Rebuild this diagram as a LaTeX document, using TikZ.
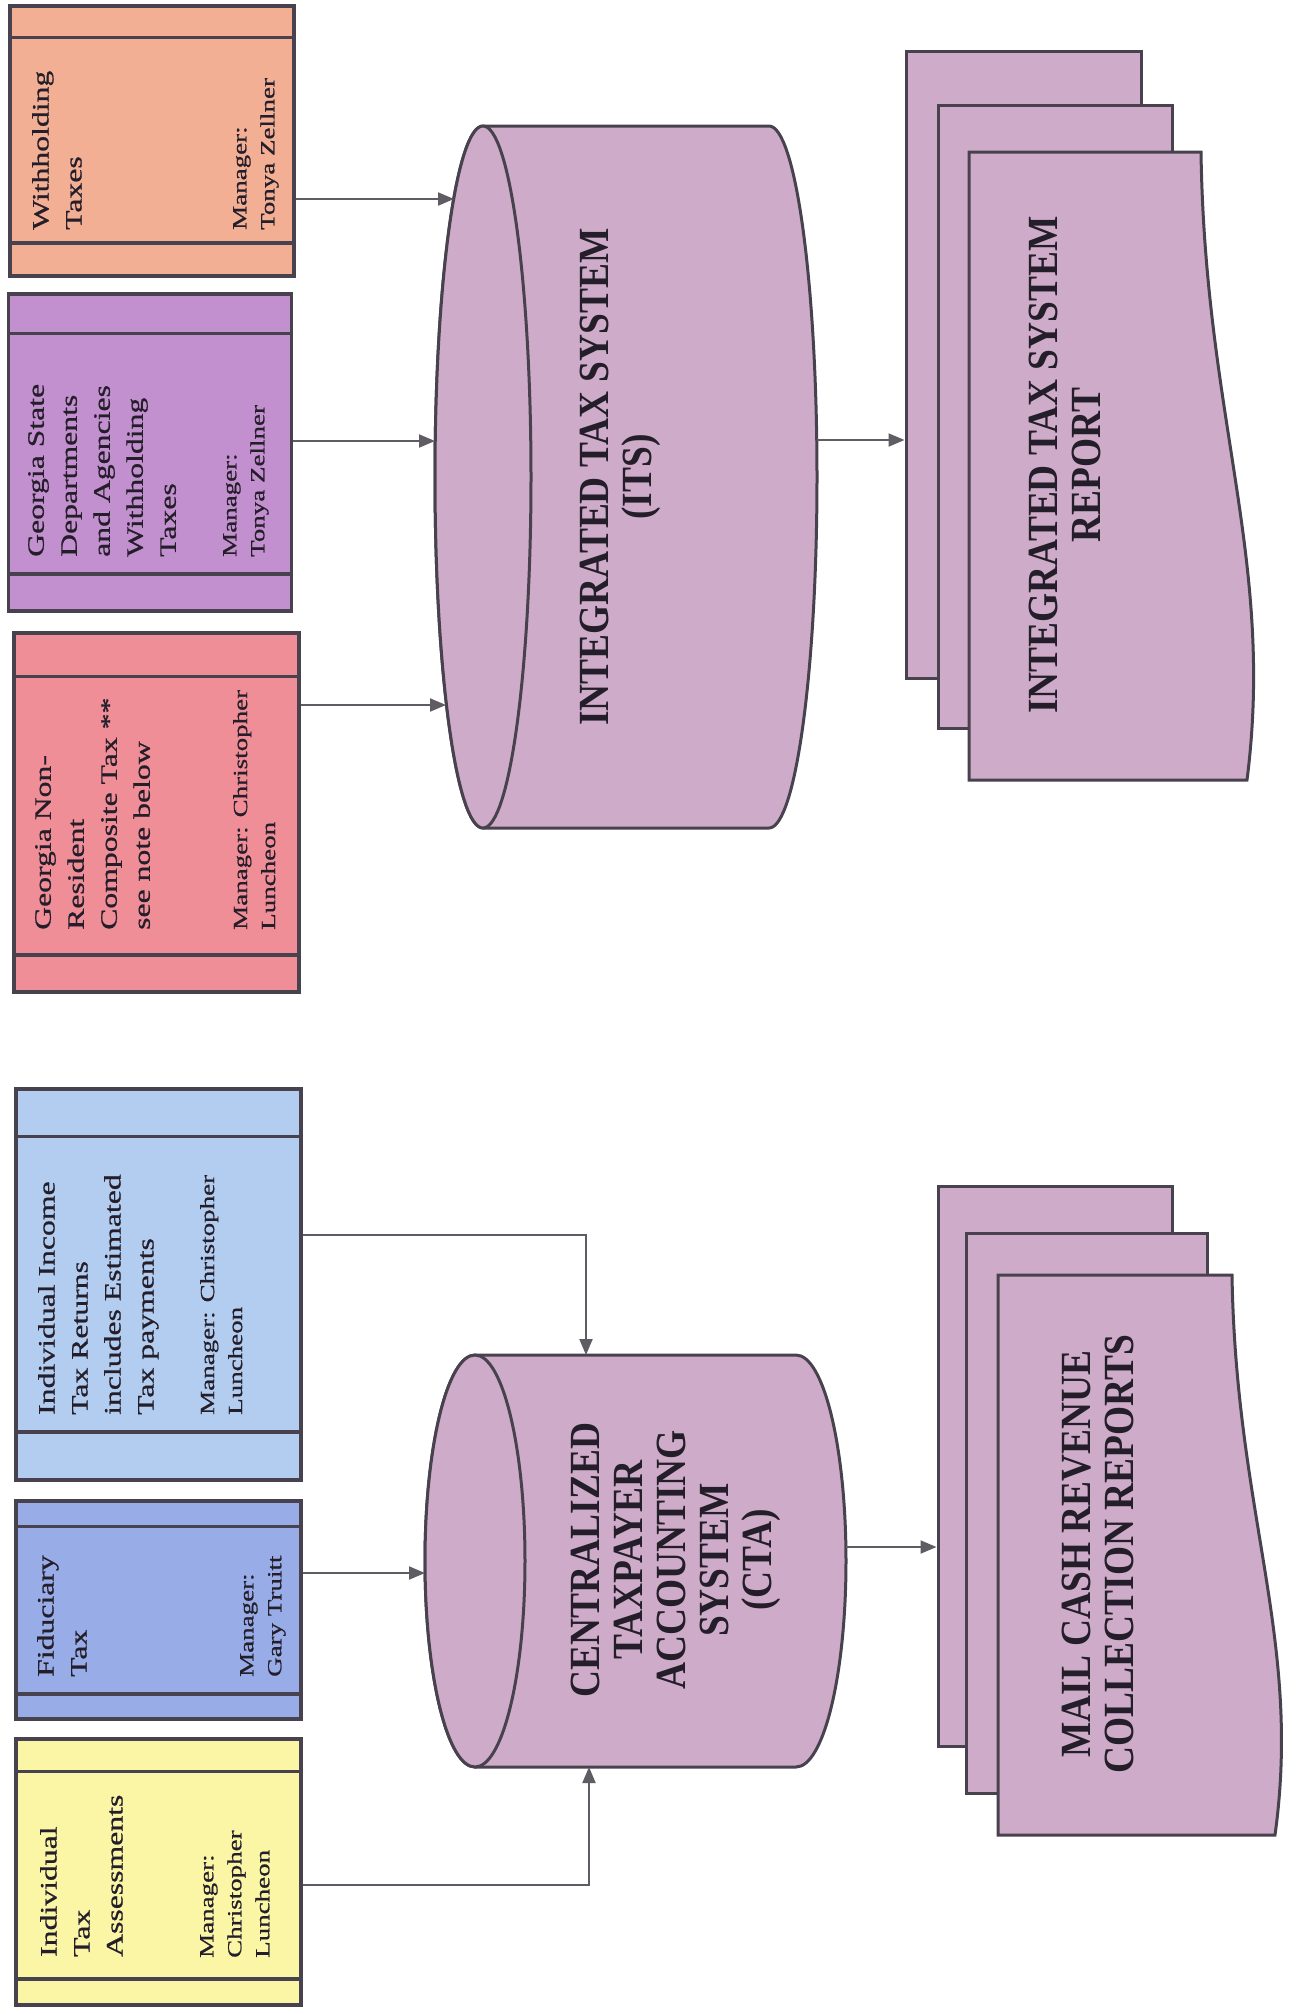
\documentclass[tikz,border=0pt]{standalone}
\usepackage{fontspec}
\setmainfont{Liberation Serif}
\newfontfamily\boxfont[FakeStretch=1.35,FakeBold=0.8]{Liberation Serif}
\newfontfamily\labelfont[FakeStretch=0.87]{Liberation Serif}
\usetikzlibrary{arrows.meta}
\definecolor{edge}{RGB}{72,66,78}
\definecolor{wire}{RGB}{95,92,100}
\definecolor{ink}{RGB}{36,30,42}
\definecolor{whcol}{RGB}{243,175,148}
\definecolor{gsdcol}{RGB}{194,144,206}
\definecolor{nrccol}{RGB}{240,142,152}
\definecolor{iitcol}{RGB}{178,205,240}
\definecolor{fidcol}{RGB}{152,173,232}
\definecolor{itacol}{RGB}{250,246,166}
\definecolor{dbcol}{RGB}{206,172,201}

\begin{document}
\begin{tikzpicture}[x=1pt,y=-1pt,
    procbox/.style={draw=edge, line width=3.5pt, rectangle, inner sep=0pt},
    stripline/.style={draw=edge, line width=3.5pt},
    maintext/.style={rotate=90, anchor=north west, inner sep=0pt, align=left, text=ink,
      font=\boxfont\fontsize{23.5}{33}\selectfont},
    mgrtext/.style={maintext, font=\boxfont\fontsize{20}{28}\selectfont},
    dbshape/.style={draw=edge, line width=3pt, fill=dbcol},
    docedge/.style={draw=edge, line width=3pt, fill=dbcol},
    docpage/.style={docedge, rectangle, inner sep=0pt},
    biglabel/.style={rotate=90, inner sep=0pt, align=center, text=ink,
      font=\labelfont\bfseries\fontsize{43}{43}\selectfont},
    arr/.style={draw=wire, line width=2pt, -{Triangle[length=16pt,width=13pt]}}]
  \useasboundingbox (0,0) rectangle (1297,2014);
  \fill[white] (0,0) rectangle (1297,2014);

  % source boxes, top row
  \node[procbox, fill=whcol, minimum width=284pt, minimum height=270pt] (wh) at (152,141) {};
  \node[procbox, fill=gsdcol, minimum width=283pt, minimum height=317pt] (gsd) at (150,452.5) {};
  \node[procbox, fill=nrccol, minimum width=285pt, minimum height=359pt] (nrc) at (156.5,812.5) {};
  % source boxes, bottom row
  \node[procbox, fill=iitcol, minimum width=285pt, minimum height=391pt] (iit) at (158.5,1284.5) {};
  \node[procbox, fill=fidcol, minimum width=285pt, minimum height=218pt] (fid) at (158.5,1610) {};
  \node[procbox, fill=itacol, minimum width=285pt, minimum height=266pt] (ita) at (158.5,1872) {};
  \foreach \bname/\gapa/\gapb in {wh/33pt/35pt, gsd/41pt/39pt, nrc/45pt/39pt,
      iit/49pt/50pt, fid/27pt/27pt, ita/34pt/28pt} {
    \draw[stripline] ([yshift=-\gapa]\bname.north west) -- ([yshift=-\gapa]\bname.north east);
    \draw[stripline] ([yshift=\gapb]\bname.south west) -- ([yshift=\gapb]\bname.south east);
  }

  \node[maintext] (wh-t) at (32,230) {Withholding\\Taxes};
  \node[mgrtext] (wh-m) at (233,230) {Manager:\\Tonya Zellner};
  \node[maintext] (gsd-t) at (28,557) {Georgia State\\Departments\\and Agencies\\Withholding\\Taxes};
  \node[mgrtext] (gsd-m) at (223,557) {Manager:\\Tonya Zellner};
  \node[maintext] (nrc-t) at (35,930) {Georgia Non-\\Resident\\Composite Tax **\\see note below};
  \node[mgrtext] (nrc-m) at (233,930) {Manager: Christopher\\Luncheon};
  \node[maintext] (iit-t) at (38,1415) {Individual Income\\Tax Returns\\includes Estimated\\Tax payments};
  \node[mgrtext] (iit-m) at (200,1415) {Manager: Christopher\\Luncheon};
  \node[maintext] (fid-t) at (37,1677) {Fiduciary\\Tax};
  \node[mgrtext] (fid-m) at (240,1677) {Manager:\\Gary Truitt};
  \node[maintext] (ita-t) at (40,1957) {Individual\\Tax\\Assessments};
  \node[mgrtext] (ita-m) at (200,1958) {Manager:\\Christopher\\Luncheon};

  % ITS data store
  \draw[dbshape] (483,126) -- (769,126) arc[start angle=-90, end angle=90, x radius=48, y radius=351]
    -- (483,828) arc[start angle=90, end angle=270, x radius=48, y radius=351] -- cycle;
  \draw[dbshape] (483,477) ellipse [x radius=48, y radius=351];
  \node[biglabel] (its) at (620,477) {INTEGRATED TAX SYSTEM\\(ITS)};
  \coordinate (its-in1) at (454,199);
  \coordinate (its-in2) at (435,441);
  \coordinate (its-in3) at (446,705);
  \coordinate (its-out) at (817,440);

  % CTA data store
  \draw[dbshape] (475,1355) -- (796,1355) arc[start angle=-90, end angle=90, x radius=50, y radius=206]
    -- (475,1767) arc[start angle=90, end angle=270, x radius=50, y radius=206] -- cycle;
  \draw[dbshape] (475,1561) ellipse [x radius=50, y radius=206];
  \node[biglabel] (cta) at (676,1560) {CENTRALIZED\\TAXPAYER\\ACCOUNTING\\SYSTEM\\(CTA)};
  \coordinate (cta-in1) at (586,1355);
  \coordinate (cta-in2) at (425,1573);
  \coordinate (cta-in3) at (589,1767);
  \coordinate (cta-out) at (846,1547);

  % report stacks
  \node[docpage, minimum width=235pt, minimum height=627pt] (itsrb) at (1023.5,364.5) {};
  \node[docpage, minimum width=234pt, minimum height=623pt] (itsrm) at (1055,416.5) {};
  \draw[docedge] (969,152) -- (1201,152) .. controls (1205,420) and (1275,560) .. (1247,780)
    -- (969,780) -- cycle;
  \node[biglabel] (itsr) at (1065,465) {INTEGRATED TAX SYSTEM\\REPORT};

  \node[docpage, minimum width=234pt, minimum height=560pt] (mcrb) at (1055,1466) {};
  \node[docpage, minimum width=241pt, minimum height=560pt] (mcrm) at (1086.5,1513) {};
  \draw[docedge] (998,1275) -- (1232,1275) .. controls (1236,1516) and (1302,1639) .. (1275,1835)
    -- (998,1835) -- cycle;
  \node[biglabel] (mcr) at (1098,1554) {MAIL CASH REVENUE\\COLLECTION REPORTS};

  % flows
  \draw[arr] ([yshift=-58pt]wh.east) -- (its-in1);
  \draw[arr] ([yshift=11.5pt]gsd.east) -- (its-in2);
  \draw[arr] ([yshift=107.5pt]nrc.east) -- (its-in3);
  \draw[arr] ([yshift=49.5pt]iit.east) -| (cta-in1);
  \draw[arr] ([yshift=37pt]fid.east) -- (cta-in2);
  \draw[arr] ([yshift=-13pt]ita.east) -| (cta-in3);
  \draw[arr] (its-out) -- (its-out -| itsrb.west);
  \draw[arr] (cta-out) -- (cta-out -| mcrb.west);
\end{tikzpicture}
\end{document}
